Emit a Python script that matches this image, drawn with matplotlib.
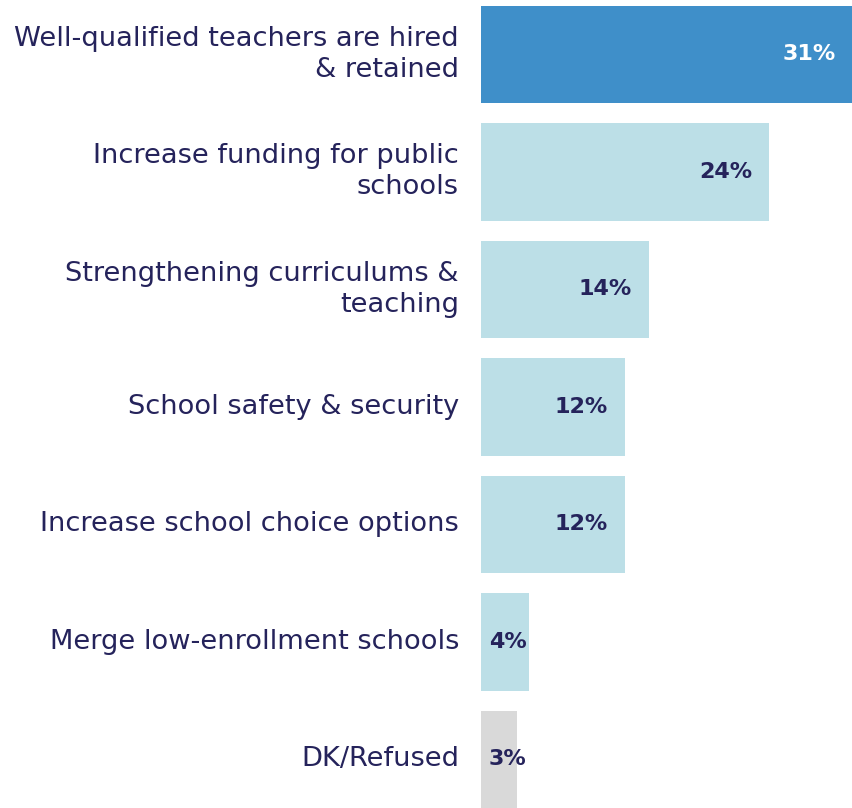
import matplotlib
matplotlib.use("Agg")
import matplotlib.pyplot as plt
from matplotlib import transforms

categories = [
    "Well-qualified teachers are hired\n& retained",
    "Increase funding for public\nschools",
    "Strengthening curriculums &\nteaching",
    "School safety & security",
    "Increase school choice options",
    "Merge low-enrollment schools",
    "DK/Refused",
]
values = [31, 24, 14, 12, 12, 4, 3]
bar_colors = ["#3F8FC9", "#BCDFE7", "#BCDFE7", "#BCDFE7", "#BCDFE7", "#BCDFE7", "#D9D9D9"]
value_colors = ["white", "#25235B", "#25235B", "#25235B", "#25235B", "#25235B", "#25235B"]
text_color = "#25235B"

W, H = 853, 808
fig = plt.figure(figsize=(W / 100, H / 100), dpi=100)
ax = fig.add_axes([481 / W, 0, 372 / W, 1])
ypos = list(range(len(values)))
ax.barh(ypos, values, height=0.826, color=bar_colors)
ax.set_xlim(0, 31)
ax.set_ylim(6.4128, -0.4638)
ax.axis("off")

lab_tr = transforms.offset_copy(ax.transData, fig=fig, x=-22, y=0, units="dots")
for y, c in zip(ypos, categories):
    ax.text(0, y, c, transform=lab_tr, ha="right", va="center", fontsize=19.6,
            color=text_color, family="DejaVu Sans", linespacing=1.25)

val_tr = transforms.offset_copy(ax.transData, fig=fig, x=-17, y=0, units="dots")
val_tr0 = transforms.offset_copy(ax.transData, fig=fig, x=8, y=0, units="dots")
for y, v, vc in zip(ypos, values, value_colors):
    if v >= 8:
        ax.text(v, y, f"{v}%", transform=val_tr, ha="right", va="center",
                fontsize=16, fontweight="bold", color=vc, family="DejaVu Sans")
    else:
        ax.text(0, y, f"{v}%", transform=val_tr0, ha="left", va="center",
                fontsize=16, fontweight="bold", color=vc, family="DejaVu Sans")

fig.savefig("out.png", dpi=100, facecolor="white")
